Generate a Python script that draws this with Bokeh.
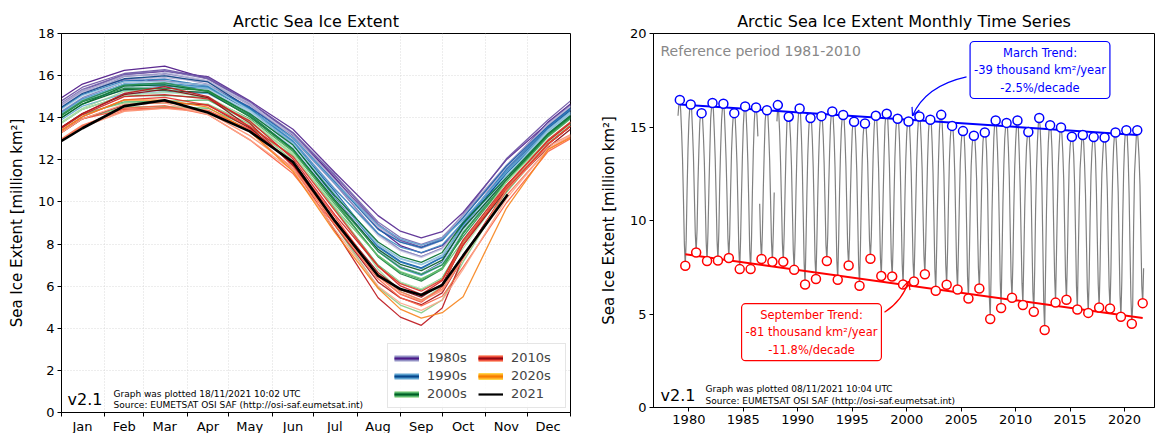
import numpy as np
from bokeh.plotting import figure
from bokeh.layouts import row
from bokeh.models import FixedTicker, Label, Legend, LegendItem, Arrow, OpenHead
from bokeh.palettes import Purples256, Blues256, Greens256, Reds256
from bokeh.embed import file_html
from bokeh.resources import INLINE

nan = float("nan")
FONT = "DejaVu Sans"

# ---------------- data (million km^2), years 1979..2021 ----------------
years = list(range(1979, 2022))
jan = [15.60, 15.30, 15.20, 15.45, 15.35, 14.95, 15.10, 15.25, 15.30, nan, 15.20, 15.15, 14.80, 14.85, 15.10, 14.90, 14.80, 14.55, 14.85, 15.05, 14.80, 14.65, 14.65, 14.75, 14.80, 14.40, 14.15, 13.95, 14.20, 14.45, 14.40, 14.20, 13.95, 14.20, 14.15, 14.05, 13.95, 13.60, 13.65, 13.55, 13.95, 14.05, 13.50]
feb = [16.25, 16.05, 15.80, 16.10, 16.05, 15.70, 15.95, 16.00, 15.85, 15.30, 15.75, 15.85, 15.60, 15.55, 15.75, 15.60, 15.30, 15.15, 15.60, 15.70, 15.45, 15.35, 15.50, 15.40, 15.55, 15.05, 14.75, 14.50, 14.70, 15.25, 15.05, 15.10, 14.60, 15.15, 15.00, 14.85, 14.40, 14.45, 14.35, 14.30, 14.65, 14.85, 14.55]
mar = [16.45, 16.20, 15.74, 16.28, 16.24, 15.74, 16.10, 16.04, 15.90, 16.17, 15.55, 15.99, 15.48, 15.58, 15.83, 15.64, 15.28, 15.19, 15.60, 15.71, 15.44, 15.29, 15.56, 15.39, 15.65, 15.06, 14.78, 14.53, 14.71, 15.35, 15.22, 15.35, 14.73, 15.48, 15.10, 14.97, 14.48, 14.57, 14.46, 14.44, 14.71, 14.83, 14.83]
apr = [15.85, 15.95, 15.55, 15.90, 15.85, 15.50, 15.75, 15.60, 15.70, 15.75, 15.30, 15.70, 15.40, 15.45, 15.50, 15.45, 15.15, 15.20, 15.40, 15.55, 15.35, 15.20, 15.25, 15.30, 15.25, 14.95, 14.85, 14.45, 14.65, 14.95, 15.00, 14.95, 14.60, 15.00, 14.90, 14.60, 14.35, 14.15, 14.35, 14.25, 14.15, 14.50, 14.25]
may = [14.70, 14.80, 14.50, 14.75, 14.65, 14.40, 14.60, 14.50, 14.60, 14.70, 14.40, 14.45, 14.35, 14.50, 14.45, 14.40, 14.10, 14.35, 14.25, 14.35, 14.30, 14.05, 14.20, 14.15, 14.05, 13.95, 13.80, 13.55, 13.70, 13.80, 13.90, 13.55, 13.50, 13.75, 13.85, 13.60, 13.45, 12.95, 13.35, 13.15, 12.95, 13.35, 13.35]
jun = [13.25, 13.45, 13.15, 13.30, 13.25, 13.00, 13.05, nan, 13.20, 13.10, 12.95, 12.75, 12.80, 13.05, 12.85, 12.90, 12.55, 13.05, 12.75, 12.80, 12.60, 12.50, 12.70, 12.50, 12.45, 12.40, 12.30, 12.20, 11.95, 12.25, 12.30, 11.75, 11.80, 11.70, 12.05, 12.15, 11.90, 11.35, 11.55, 11.65, 11.50, 11.45, 11.90]
jul = [11.15, 11.40, 11.10, 11.25, 11.30, 10.85, 10.90, 10.90, 11.05, 11.00, 10.65, 10.20, 10.50, 10.95, 10.35, 10.60, 10.15, 10.90, 10.40, 10.35, 10.15, 10.10, 10.30, 10.00, 10.05, 9.90, 9.65, 9.70, 8.90, 9.80, 9.60, 9.15, 8.90, 8.65, 9.40, 9.60, 9.30, 8.90, 9.00, 9.00, 8.70, 8.55, 9.10]
aug = [8.75, 9.35, 8.90, 8.95, 9.05, 8.50, 8.45, 8.90, 8.85, 8.80, 8.40, 7.70, 7.90, 8.70, 7.85, 8.50, 7.65, 8.90, 8.00, 7.95, 7.70, 7.75, 8.10, 7.40, 7.65, 7.45, 7.00, 7.45, 5.95, 6.80, 6.95, 6.65, 6.20, 5.45, 6.95, 6.95, 6.50, 6.35, 6.60, 6.45, 6.00, 5.90, 6.50]
sep = [7.58, 8.29, 7.83, 7.86, 7.99, 7.40, 7.40, 7.94, 7.79, 7.79, 7.36, 6.58, 6.87, 7.83, 6.83, 7.59, 6.51, 7.95, 7.03, 7.01, 6.58, 6.74, 7.13, 6.24, 6.56, 6.31, 5.83, 6.36, 4.73, 5.32, 5.87, 5.48, 5.12, 4.14, 5.61, 5.76, 5.24, 5.06, 5.35, 5.29, 4.85, 4.48, 5.58]
octo = [8.95, 9.50, 9.35, 9.40, 9.30, 9.05, 9.00, 9.40, 9.35, 9.30, 8.95, 8.80, 8.90, 9.25, 8.95, 9.05, 8.50, 9.15, 8.85, 8.70, 8.65, 8.75, 9.00, 8.50, 8.35, 8.55, 8.05, 8.15, 7.15, 8.05, 7.80, 7.95, 7.35, 7.40, 8.20, 7.95, 8.10, 6.90, 7.40, 7.30, 6.80, 5.50, 7.45]
nov = [11.60, 12.00, 11.55, 12.05, 11.70, 11.45, 11.60, 11.75, 11.50, 11.60, 11.55, 11.40, 11.35, 11.70, 11.55, 11.45, 11.20, 11.40, 11.25, 11.20, 11.15, 11.05, 11.15, 11.00, 10.95, 10.95, 10.70, 10.45, 10.50, 10.95, 10.65, 10.60, 10.55, 10.55, 10.80, 10.75, 10.65, 9.95, 10.30, 10.55, 10.15, 9.70, nan]
dec = [13.80, 13.75, 13.60, 13.90, 13.75, 13.50, 13.70, 13.65, nan, 13.70, 13.55, 13.50, 13.35, 13.60, 13.55, 13.40, 13.30, 13.45, 13.35, 13.40, 13.30, 13.20, 13.25, 13.20, 13.15, 13.10, 12.90, 12.80, 12.75, 12.95, 12.85, 12.60, 12.75, 12.75, 12.90, 12.95, 12.75, 12.40, 12.50, 12.65, 12.55, 12.50, nan]
# daily values used by the left panel: 1 January, 1 September, 1 October, 31 December
jan1 = [14.95, 14.60, 14.55, 14.80, 14.70, 14.30, 14.45, 14.60, 14.65, nan, 14.55, 14.50, 14.15, 14.20, 14.45, 14.25, 14.15, 13.90, 14.20, 14.40, 14.15, 14.00, 14.00, 14.10, 14.15, 13.75, 13.50, 13.30, 13.55, 13.80, 13.75, 13.55, 13.30, 13.55, 13.50, 13.40, 13.30, 12.95, 13.00, 12.90, 13.30, 13.40, 12.90]
sep1 = [7.93, 8.61, 8.15, 8.19, 8.31, 7.73, 7.72, 8.23, 8.11, 8.09, 7.67, 6.92, 7.18, 8.09, 7.14, 7.86, 6.85, 8.24, 7.32, 7.29, 6.92, 7.04, 7.42, 6.59, 6.89, 6.65, 6.18, 6.69, 5.10, 5.76, 6.19, 5.83, 5.44, 4.53, 6.01, 6.12, 5.62, 5.45, 5.73, 5.64, 5.20, 4.91, 5.86]
oct1 = [7.92, 8.59, 8.21, 8.25, 8.32, 7.81, 7.80, 8.31, 8.18, 8.17, 7.76, 7.14, 7.38, 8.19, 7.36, 7.96, 7.01, 8.25, 7.49, 7.43, 7.10, 7.24, 7.60, 6.81, 7.01, 6.87, 6.39, 6.81, 5.34, 6.00, 6.35, 6.10, 5.68, 4.96, 6.26, 6.31, 5.96, 5.52, 5.86, 5.79, 5.34, 4.74, 6.05]
dec31 = [14.65, 14.60, 14.45, 14.80, 14.60, 14.35, 14.55, 14.50, nan, 14.55, 14.40, 14.35, 14.20, 14.45, 14.40, 14.25, 14.15, 14.30, 14.20, 14.25, 14.15, 14.05, 14.10, 14.05, 14.00, 13.95, 13.75, 13.65, 13.60, 13.80, 13.70, 13.45, 13.60, 13.60, 13.75, 13.80, 13.60, 13.00, 13.10, 13.20, 13.15, 13.05, nan]
# latest daily value of 2021 (mid November)
tail_2021_day = [320]
tail_2021_value = [10.35]

month_names = ["Jan", "Feb", "Mar", "Apr", "May", "Jun", "Jul", "Aug", "Sep", "Oct", "Nov", "Dec"]
month_lengths = [31, 28, 31, 30, 31, 30, 31, 31, 30, 31, 30, 31]
year_ticks = [1980, 1985, 1990, 1995, 2000, 2005, 2010, 2015, 2020]

months = [jan, feb, mar, apr, may, jun, jul, aug, sep, octo, nov, dec]
starts = [int(s) for s in np.cumsum([0] + month_lengths[:-1])]
bounds = starts + [365]
mids = [s + l // 2 for s, l in zip(starts, month_lengths)]

# left-panel sampling: day-of-year position and the series giving each value
left_days = [0] + mids[:8] + [starts[8], mids[8], starts[9]] + mids[9:] + [365]
left_series = [jan1] + months[:8] + [sep1, sep, oct1] + months[9:] + [dec31]


def shades(pal, n, lo=15, hi=175):
    idx = np.linspace(lo, hi, n).round().astype(int)
    return [pal[i] for i in idx]


year_color = {}
for pal, yrs in [(Purples256, range(1979, 1990)), (Blues256, range(1990, 2000)),
                 (Greens256, range(2000, 2010)), (Reds256, range(2010, 2020))]:
    for y, c in zip(yrs, shades(pal, len(yrs))):
        year_color[y] = c
year_color[2020] = "#f7841c"


def style(p):
    p.title.align = "center"
    p.title.text_font = FONT
    p.title.text_font_size = "16px"
    p.title.text_font_style = "normal"
    p.title.text_color = "black"
    p.title.standoff = 6
    p.outline_line_color = "black"
    p.outline_line_width = 1
    p.background_fill_color = "white"
    p.border_fill_color = "white"
    for ax in (p.xaxis[0], p.yaxis[0]):
        ax.axis_line_color = "black"
        ax.major_tick_line_color = "black"
        ax.minor_tick_line_color = "black"
        ax.major_tick_out = 4
        ax.major_tick_in = 0
        ax.minor_tick_out = 0
        ax.minor_tick_in = 0
        ax.major_label_text_font = FONT
        ax.major_label_text_font_size = "13px"
        ax.major_label_text_color = "black"
        ax.major_label_standoff = 3
    p.yaxis.axis_label = "Sea Ice Extent [million km²]"
    p.yaxis.axis_label_text_font = FONT
    p.yaxis.axis_label_text_font_size = "15px"
    p.yaxis.axis_label_text_font_style = "normal"
    p.yaxis.axis_label_text_color = "black"
    p.yaxis.axis_label_standoff = 9


def txt(p, x, y, text, size, color="black", **kw):
    p.add_layout(Label(x=x, y=y, x_units="screen", y_units="screen", text=text,
                       text_font=FONT, text_font_size=size, text_color=color,
                       text_baseline=kw.pop("baseline", "middle"), **kw))


# ---------------- left panel ----------------
p1 = figure(frame_width=509, frame_height=379, x_range=(0, 365), y_range=(0, 18),
            output_backend="svg", toolbar_location=None, title="Arctic Sea Ice Extent",
            min_border_left=61, min_border_right=20, min_border_top=33, min_border_bottom=21)
style(p1)
p1.xaxis.ticker = FixedTicker(ticks=mids, minor_ticks=bounds)
p1.xaxis.major_label_overrides = {m: n for m, n in zip(mids, month_names)}
p1.xaxis.major_tick_out = 0
p1.xaxis.minor_tick_out = 4
p1.xaxis.major_label_standoff = 2
p1.yaxis.ticker = FixedTicker(ticks=list(range(0, 19, 2)))
p1.xgrid.ticker = FixedTicker(ticks=bounds)
p1.grid.grid_line_color = "#d0d0d0"
p1.grid.grid_line_width = 0.8
p1.grid.grid_line_dash = "1 2"

for i, yr in enumerate(years):
    xs = list(left_days)
    ys = [s[i] for s in left_series]
    if yr == 2021:
        keep = [k for k in range(len(xs)) if not np.isnan(ys[k])]
        xs = [xs[k] for k in keep] + tail_2021_day
        ys = [ys[k] for k in keep] + tail_2021_value
        p1.line(xs, ys, line_color="black", line_width=2.6)
    else:
        p1.line(xs, ys, line_color=year_color[yr], line_width=1.3, line_alpha=0.9)

legend_bands = [
    ("1980s", [Purples256[175], Purples256[95], Purples256[20]]),
    ("1990s", [Blues256[175], Blues256[95], Blues256[20]]),
    ("2000s", [Greens256[175], Greens256[95], Greens256[20]]),
    ("2010s", [Reds256[175], Reds256[95], Reds256[20]]),
    ("2020s", ["#ffd54a", "#ffa31a", "#f57c00"]),
    ("2021", ["black"]),
]
items = []
for name, cols in legend_bands:
    widths = [7, 4.5, 2] if len(cols) == 3 else [2.2]
    rs = [p1.line([nan, nan], [nan, nan], line_color=c, line_width=w) for c, w in zip(cols, widths)]
    items.append(LegendItem(label=name, renderers=rs))
legend = Legend(items=items, location="bottom_right", ncols=2,
                label_text_font=FONT, label_text_font_size="13px",
                glyph_width=25, glyph_height=14, label_height=14, label_standoff=8,
                label_width=48, spacing=3, padding=6, margin=4,
                border_line_color="#cccccc", border_line_width=1,
                background_fill_color="white", background_fill_alpha=0.85)
p1.add_layout(legend)

txt(p1, 6, 13, "v2.1", "16px")
txt(p1, 52, 19, "Graph was plotted 18/11/2021 10:02 UTC", "9px")
txt(p1, 52, 8, "Source: EUMETSAT OSI SAF (http://osi-saf.eumetsat.int)", "9px")
txt(p1, 519, 2, "EUMETSAT OSI SAF data, with R&D input from ESA CCI.", "9px",
    angle=90, angle_units="deg", text_align="left")

# ---------------- right panel ----------------
p2 = figure(frame_width=501, frame_height=374, x_range=(1976.75, 2022.75), y_range=(0, 20),
            output_backend="svg", toolbar_location=None,
            title="Arctic Sea Ice Extent Monthly Time Series",
            min_border_left=63, min_border_right=19, min_border_top=33, min_border_bottom=26)
style(p2)
p2.grid.visible = False
p2.xaxis.ticker = FixedTicker(ticks=year_ticks)
p2.yaxis.ticker = FixedTicker(ticks=[0, 5, 10, 15, 20])

t_all = [yr + m / 12 for yr in years for m in range(12)]
v_all = [months[m][i] for i in range(len(years)) for m in range(12)]
p2.line(t_all, v_all, line_color="#808080", line_width=1.2)

t_mar = [yr + 2 / 12 for yr in years]
t_sep = [yr + 8 / 12 for yr in years]
for t, v, c in [(t_mar, mar, "#0000ff"), (t_sep, sep, "#ff0000")]:
    k, b = np.polyfit(t, v, 1)
    p2.line([t[0], t[-1]], [k * t[0] + b, k * t[-1] + b], line_color=c, line_width=2)
    p2.scatter(t, v, size=9, marker="circle", line_color=c, line_width=1.5, fill_color="white")

# curved arrows to the trend lines
for (x0, y0), (cx, cy), (x1, y1), c in [((2005.49, 17.68), (2001.73, 17.20), (2000.53, 15.60), "#0000ff"),
                                         ((1997.96, 5.09), (1999.61, 5.71), (2000.17, 6.75), "#ff0000")]:
    p2.quadratic(x0=[x0], y0=[y0], x1=[x1], y1=[y1], cx=[cx], cy=[cy], line_color=c, line_width=1.2)
    p2.add_layout(Arrow(x_start=cx, y_start=cy, x_end=x1, y_end=y1, line_alpha=0,
                        end=OpenHead(size=8, line_color=c, line_width=1.2)))

txt(p2, 7, 357, "Reference period 1981-2010", "14px", color="#888888")
for x, y, text, c in [(386.5, 337.5, "March Trend:\n-39 thousand km²/year\n-2.5%/decade", "#0000ff"),
                      (158, 75.3, "September Trend:\n-81 thousand km²/year\n-11.8%/decade", "#ff0000")]:
    p2.add_layout(Label(x=x, y=y, x_units="screen", y_units="screen", text=text,
                        text_font=FONT, text_font_size="11.5px", text_color=c,
                        text_align="center", text_baseline="middle", text_line_height=1.25,
                        border_line_color=c, border_line_width=1.2,
                        background_fill_color="white", padding=4, border_radius=4))
txt(p2, 7, 12, "v2.1", "16px")
txt(p2, 52, 19, "Graph was plotted 08/11/2021 10:04 UTC", "9px")
txt(p2, 52, 7, "Source: EUMETSAT OSI SAF (http://osi-saf.eumetsat.int)", "9px")
txt(p2, 511, 3, "EUMETSAT OSI SAF data, with R&D input from ESA CCI.", "9px",
    angle=90, angle_units="deg", text_align="left")

layout = row(p1, p2)
open("out.html", "w").write(file_html(layout, INLINE))
